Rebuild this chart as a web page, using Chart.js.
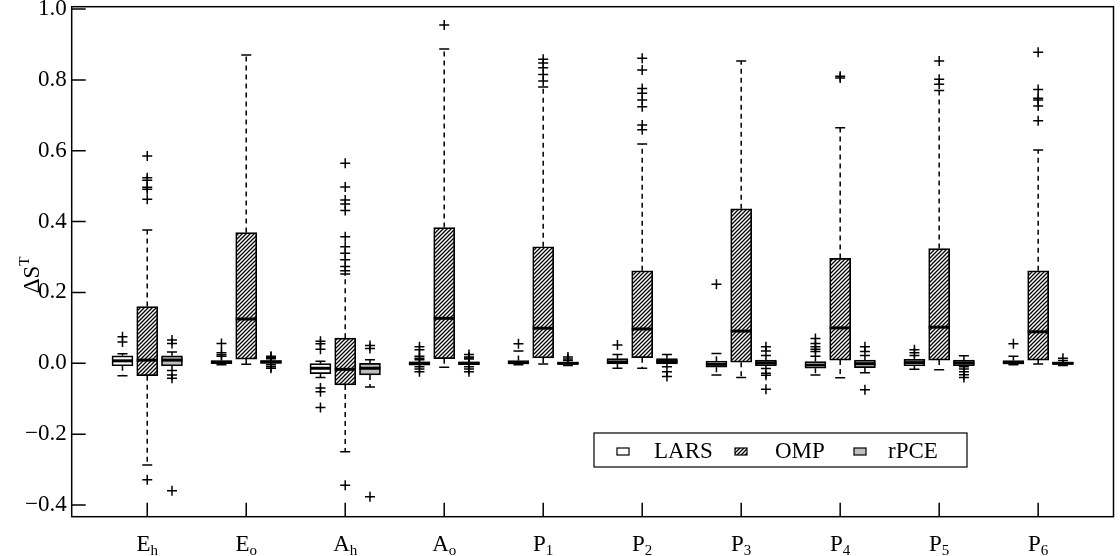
<!DOCTYPE html>
<html>
<head>
<meta charset="utf-8">
<script src="https://cdn.jsdelivr.net/npm/chart.js@4/dist/chart.umd.min.js"></script>
<style>
  body { margin: 0; background: #fff; }
  canvas { display: block; }
</style>
</head>
<body>
<canvas id="chart-area" width="1120" height="556" style="width:1120px;height:556px"></canvas>
<script>
// categories (letter + subscript)
var catMain = ['E', 'E', 'A', 'A', 'P', 'P', 'P', 'P', 'P', 'P'];
var catSub = ['h', 'o', 'h', 'o', '1', '2', '3', '4', '5', '6'];
var methods = ['LARS', 'OMP', 'rPCE'];
var yTicks = [-0.4, -0.2, 0.0, 0.2, 0.4, 0.6, 0.8, 1.0];

// [lower whisker, q1, median, q3, upper whisker]
var larsStats = [
  [-0.035, -0.007, 0.007, 0.021, 0.027],
  [-0.004, -0.001, 0.003, 0.008, 0.02],
  [-0.04, -0.029, -0.014, -0.001, 0.006],
  [-0.01, -0.005, 0.0, 0.004, 0.01],
  [-0.004, -0.002, 0.002, 0.008, 0.035],
  [-0.014, -0.002, 0.004, 0.013, 0.025],
  [-0.033, -0.011, -0.003, 0.006, 0.028],
  [-0.033, -0.014, -0.005, 0.005, 0.02],
  [-0.017, -0.007, 0.002, 0.011, 0.022],
  [-0.004, -0.002, 0.002, 0.008, 0.02]
];
var ompStats = [
  [-0.287, -0.035, 0.009, 0.16, 0.376],
  [-0.003, 0.012, 0.125, 0.369, 0.87],
  [-0.25, -0.061, -0.017, 0.071, 0.252],
  [-0.011, 0.013, 0.127, 0.383, 0.887],
  [-0.002, 0.015, 0.099, 0.329, 0.78],
  [-0.014, 0.016, 0.097, 0.261, 0.619],
  [-0.04, 0.003, 0.091, 0.436, 0.853],
  [-0.041, 0.009, 0.1, 0.296, 0.665],
  [-0.018, 0.009, 0.102, 0.324, 0.77],
  [-0.002, 0.009, 0.089, 0.261, 0.602]
];
var rpceStats = [
  [-0.02, -0.007, 0.009, 0.021, 0.032],
  [-0.004, 0.0, 0.004, 0.008, 0.013],
  [-0.067, -0.033, -0.014, 0.0, 0.01],
  [-0.01, -0.004, 0.0, 0.004, 0.012],
  [-0.006, -0.003, 0.0, 0.003, 0.008],
  [-0.01, -0.002, 0.005, 0.013, 0.025],
  [-0.015, -0.007, 0.001, 0.009, 0.022],
  [-0.027, -0.012, -0.001, 0.009, 0.022],
  [-0.01, -0.007, 0.001, 0.009, 0.021],
  [-0.006, -0.003, 0.0, 0.003, 0.008]
];

// outliers
var larsOutliers = [
  [0.075, 0.06],
  [0.056, 0.03, 0.024],
  [0.062, 0.055, 0.04, -0.07, -0.08, -0.125],
  [0.047, 0.038, 0.02, 0.014, -0.016, -0.024],
  [0.055],
  [0.052],
  [0.223],
  [0.07, 0.056, 0.047, 0.04, 0.033],
  [0.038, 0.03],
  [0.055]
];
var ompOutliers = [
  [0.585, 0.524, 0.517, 0.497, 0.491, 0.463, -0.329],
  [],
  [0.565, 0.498, 0.461, 0.45, 0.431, 0.357, 0.329, 0.311, 0.292, 0.273, 0.261, -0.344],
  [0.955],
  [0.858, 0.848, 0.834, 0.815, 0.797],
  [0.861, 0.828, 0.776, 0.762, 0.743, 0.724, 0.673, 0.659],
  [],
  [0.81, 0.805],
  [0.853, 0.802, 0.788],
  [0.878, 0.773, 0.748, 0.743, 0.726, 0.685]
];
var rpceOutliers = [
  [0.066, 0.056, -0.033, -0.042, -0.36],
  [0.02, 0.017, -0.01, -0.014],
  [0.05, 0.042, -0.377],
  [0.025, 0.018, 0.015, -0.016, -0.024],
  [0.018, 0.012],
  [-0.024, -0.037],
  [0.047, 0.035, -0.028, -0.034, -0.073],
  [0.047, 0.033, -0.075],
  [-0.016, -0.024, -0.032, -0.04],
  [0.014]
];

var offsets = [-0.25, 0, 0.25];
var FONT = "'Liberation Serif', 'Times New Roman', serif";

function makeHatch() {
  var c = document.createElement('canvas');
  c.width = 4; c.height = 4;
  var g = c.getContext('2d');
  g.fillStyle = '#fff';
  g.fillRect(0, 0, 4, 4);
  g.strokeStyle = '#000';
  g.lineWidth = 1.3;
  g.beginPath();
  g.moveTo(-1, 5); g.lineTo(5, -1);
  g.moveTo(-1, 1); g.lineTo(1, -1);
  g.moveTo(3, 5); g.lineTo(5, 3);
  g.stroke();
  return g.createPattern(c, 'repeat');
}
var hatch = makeHatch();
var fills = ['#ffffff', hatch, '#bebebe'];
var allStats = [larsStats, ompStats, rpceStats];
var allOut = [larsOutliers, ompOutliers, rpceOutliers];

var datasets = [];
methods.forEach(function(m, k) {
  datasets.push({
    type: 'bar',
    label: m,
    stats: allStats[k],
    data: allStats[k].map(function(s, i) { return {x: i + 1 + offsets[k], y: [s[1], s[3]]}; }),
    backgroundColor: fills[k],
    borderColor: '#000',
    borderWidth: 1.7,
    borderSkipped: false,
    barThickness: 21,
    grouped: false
  });
});
methods.forEach(function(m, k) {
  var pts = [];
  allOut[k].forEach(function(list, i) {
    list.forEach(function(v) { pts.push({x: i + 1 + offsets[k], y: v}); });
  });
  datasets.push({
    type: 'scatter',
    label: m + ' outliers',
    data: pts,
    pointStyle: 'cross',
    pointRadius: 5,
    borderColor: '#000',
    backgroundColor: '#000',
    borderWidth: 1.5
  });
});

var boxParts = {
  id: 'boxParts',
  afterDatasetsDraw: function(chart) {
    var ctx = chart.ctx, ys = chart.scales.y;
    ctx.save();
    ctx.strokeStyle = '#000';
    chart.data.datasets.forEach(function(ds, di) {
      if (!ds.stats) return;
      var meta = chart.getDatasetMeta(di);
      meta.data.forEach(function(bar, i) {
        var s = ds.stats[i];
        var x = bar.x, half = bar.width / 2, cap = 5;
        var lo = ys.getPixelForValue(s[0]), q1 = ys.getPixelForValue(s[1]);
        var med = ys.getPixelForValue(s[2]), q3 = ys.getPixelForValue(s[3]);
        var hi = ys.getPixelForValue(s[4]);
        ctx.lineWidth = 1.5;
        ctx.setLineDash([5, 4]);
        ctx.beginPath();
        ctx.moveTo(x, q3); ctx.lineTo(x, hi);
        ctx.moveTo(x, q1); ctx.lineTo(x, lo);
        ctx.stroke();
        ctx.setLineDash([]);
        ctx.beginPath();
        ctx.moveTo(x - cap, hi); ctx.lineTo(x + cap, hi);
        ctx.moveTo(x - cap, lo); ctx.lineTo(x + cap, lo);
        ctx.stroke();
        ctx.lineWidth = 3;
        ctx.beginPath();
        ctx.moveTo(x - half, med); ctx.lineTo(x + half, med);
        ctx.stroke();
      });
    });
    ctx.restore();
  },
  afterDraw: function(chart) {
    var ctx = chart.ctx, a = chart.chartArea, xs = chart.scales.x, ys = chart.scales.y;
    ctx.save();
    ctx.strokeStyle = '#000';
    ctx.fillStyle = '#000';
    // frame
    ctx.lineWidth = 1.5;
    ctx.strokeRect(a.left, a.top, a.right - a.left, a.bottom - a.top);
    // inward ticks
    ctx.beginPath();
    yTicks.forEach(function(v) {
      var y = ys.getPixelForValue(v);
      ctx.moveTo(a.left, y); ctx.lineTo(a.left + 14, y);
    });
    catMain.forEach(function(c, i) {
      var x = xs.getPixelForValue(i + 1);
      ctx.moveTo(x, a.bottom); ctx.lineTo(x, a.bottom - 14);
    });
    ctx.stroke();
    // x labels with subscripts
    ctx.textBaseline = 'alphabetic';
    ctx.textAlign = 'left';
    catMain.forEach(function(c, i) {
      var x = xs.getPixelForValue(i + 1);
      ctx.font = '23px ' + FONT;
      var w1 = ctx.measureText(c).width;
      ctx.font = '15px ' + FONT;
      var w2 = ctx.measureText(catSub[i]).width;
      var x0 = x - (w1 + w2) / 2;
      ctx.font = '23px ' + FONT;
      ctx.fillText(c, x0, 551);
      ctx.font = '15px ' + FONT;
      ctx.fillText(catSub[i], x0 + w1, 555);
    });
    // y title: delta S superscript T
    ctx.translate(31, 275);
    ctx.rotate(-Math.PI / 2);
    ctx.font = '23px ' + FONT;
    var wa = ctx.measureText('\u0394S').width;
    ctx.font = '15px ' + FONT;
    var wb = ctx.measureText('T').width;
    var sx = -(wa + wb) / 2;
    ctx.font = '23px ' + FONT;
    ctx.fillText('\u0394S', sx, 8);
    ctx.font = '15px ' + FONT;
    ctx.fillText('T', sx + wa, -2);
    ctx.restore();

    // legend
    ctx.save();
    ctx.strokeStyle = '#000';
    ctx.fillStyle = '#000';
    ctx.lineWidth = 1.2;
    ctx.strokeRect(594, 433, 373, 34);
    var swX = [617, 735, 854], txX = [654, 775, 888];
    methods.forEach(function(m, k) {
      ctx.fillStyle = fills[k];
      ctx.fillRect(swX[k], 448, 12, 7);
      ctx.strokeRect(swX[k], 448, 12, 7);
      ctx.fillStyle = '#000';
      ctx.font = '23px ' + FONT;
      ctx.textAlign = 'left';
      ctx.textBaseline = 'alphabetic';
      ctx.fillText(m, txX[k], 458);
    });
    ctx.restore();
  }
};

var ctx = document.getElementById('chart-area').getContext('2d');
window.myBox = new Chart(ctx, {
  type: 'bar',
  data: { datasets: datasets },
  plugins: [boxParts],
  options: {
    responsive: false,
    animation: false,
    layout: { padding: { top: 6.7, right: 2.7, left: 0, bottom: 0 } },
    plugins: { legend: { display: false }, tooltip: { enabled: false } },
    scales: {
      x: {
        type: 'linear',
        min: 0.237,
        max: 10.761,
        offset: false,
        grid: { display: false },
        border: { display: false },
        ticks: { display: false },
        afterFit: function(s) { s.height = 39.3; s.paddingLeft = 0; s.paddingRight = 0; }
      },
      y: {
        type: 'linear',
        min: -0.433,
        max: 1.0066,
        grid: { display: false, drawTicks: false },
        border: { display: false },
        afterBuildTicks: function(s) { s.ticks = yTicks.map(function(v) { return {value: v}; }); },
        ticks: {
          padding: 5,
          color: '#000',
          font: { family: FONT, size: 23 },
          callback: function(v) { return Number(v).toFixed(1).replace('-', '\u2212'); }
        },
        afterFit: function(s) { s.width = 71.7; s.paddingTop = 0; s.paddingBottom = 0; }
      }
    }
  }
});
</script>
</body>
</html>
